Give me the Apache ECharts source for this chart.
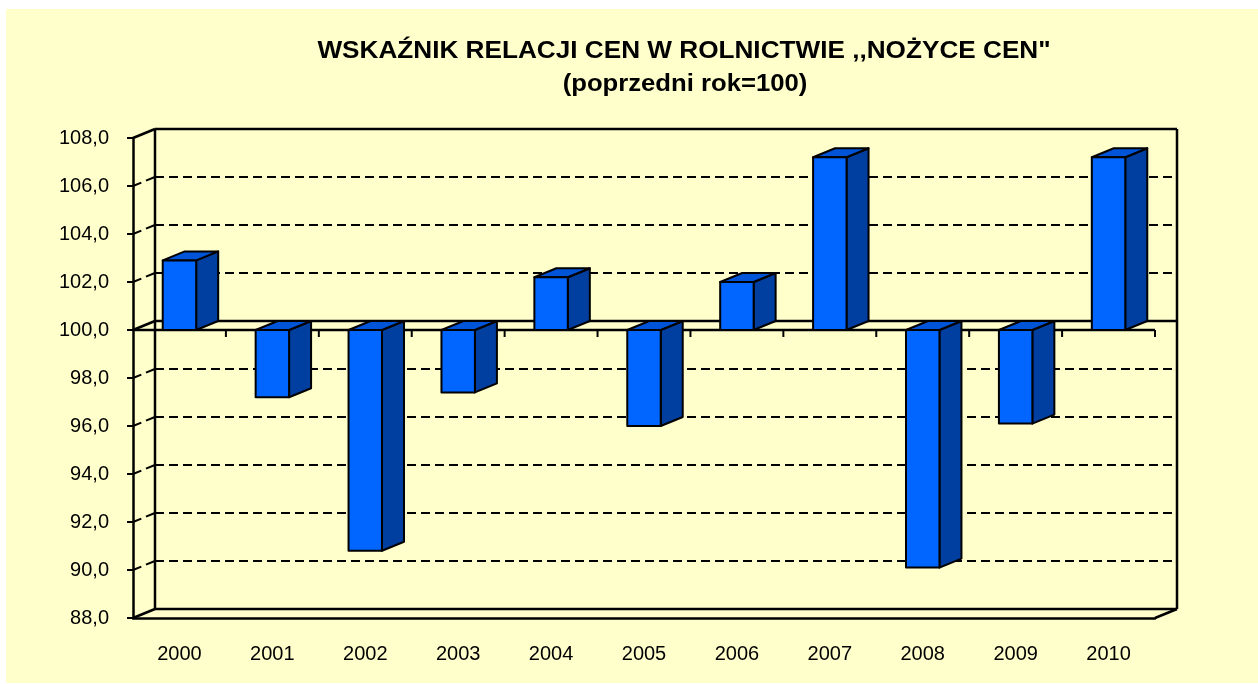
<!DOCTYPE html>
<html><head><meta charset="utf-8">
<script src="https://cdn.jsdelivr.net/npm/echarts@6/dist/echarts.min.js"></script>
<style>
html,body{margin:0;padding:0;background:#fff;width:1258px;height:684px;overflow:hidden}
#bg{position:absolute;left:6px;top:9px;right:0;bottom:1px;background:#FFFFCC}
#main{position:absolute;left:0;top:0;width:1258px;height:684px}
</style></head><body><div id="bg"></div><div id="main"></div>
<script>
const titleLine1 = 'WSKAŹNIK RELACJI CEN W ROLNICTWIE ,,NOŻYCE CEN"';
const titleLine2 = '(poprzedni rok=100)';
const categories = ['2000','2001','2002','2003','2004','2005','2006','2007','2008','2009','2010'];
const values = [102.9, 97.2, 90.8, 97.4, 102.2, 96.0, 102.0, 107.2, 90.1, 96.1, 107.2];
const baseline = 100;
const yTickValues = [88, 90, 92, 94, 96, 98, 100, 102, 104, 106, 108];
const yMin = 88, yMax = 108, yStep = 2;

const DX = 22, DY = -9;
const FONT = '"Liberation Sans", Arial, sans-serif';

function renderFrame(params, api) {
  const cs = params.coordSys;
  const v = api.value(1);
  const y = api.coord([0, v])[1];
  const x0 = cs.x, x1 = cs.x + cs.width;
  const solid = (v === yMin || v === yMax || v === baseline);
  const st = { stroke: '#000', lineWidth: solid ? 2.5 : 2, lineDash: solid ? null : [9, 5], fill: null };
  const children = [
    { type: 'line', shape: { x1: x0, y1: y, x2: x0 + DX, y2: y + DY }, style: st },
    { type: 'line', shape: { x1: x0 + DX, y1: y + DY, x2: x1 + DX, y2: y + DY }, style: st }
  ];
  if (params.dataIndex === 0) {
    const yb = cs.y + cs.height, yt = cs.y;
    const ws = { stroke: '#000', lineWidth: 2.5, fill: null };
    children.push({ type: 'line', shape: { x1: x0 + DX, y1: yt + DY, x2: x0 + DX, y2: yb + DY }, style: ws });
    children.push({ type: 'line', shape: { x1: x1 + DX, y1: yt + DY, x2: x1 + DX, y2: yb + DY }, style: ws });
    children.push({ type: 'line', shape: { x1: x1, y1: yb, x2: x1 + DX, y2: yb + DY }, style: ws });
  }
  if (v === baseline) {
    const fs = { stroke: '#000', lineWidth: 2.5, fill: null };
    children.push({ type: 'line', shape: { x1: x0, y1: y, x2: x1, y2: y }, style: fs });
    const band = cs.width / categories.length;
    for (let k = 1; k <= categories.length; k++) {
      const xt = x0 + k * band;
      children.push({ type: 'line', shape: { x1: xt, y1: y, x2: xt, y2: y + 7 }, style: { stroke: '#000', lineWidth: 2 } });
    }
  }
  return { type: 'group', children };
}

function renderBar(params, api) {
  const idx = api.value(0), v = api.value(1);
  const top = api.coord([idx, v]);
  const base = api.coord([idx, baseline]);
  const band = api.size([1, 0])[0];
  const w = band * 0.36;
  const xl = top[0] - w / 2, xr = top[0] + w / 2;
  const yHi = Math.min(top[1], base[1]), yLo = Math.max(top[1], base[1]);
  const s = { stroke: '#000', lineWidth: 2, lineJoin: 'round' };
  return {
    type: 'group',
    children: [
      { type: 'polygon', shape: { points: [[xr, yHi], [xr + DX, yHi + DY], [xr + DX, yLo + DY], [xr, yLo]] },
        style: Object.assign({ fill: '#003FA0' }, s) },
      { type: 'polygon', shape: { points: [[xl, yHi], [xl + DX, yHi + DY], [xr + DX, yHi + DY], [xr, yHi]] },
        style: Object.assign({ fill: '#0054D8' }, s) },
      { type: 'rect', shape: { x: xl, y: yHi, width: w, height: yLo - yHi },
        style: Object.assign({ fill: '#0066FF' }, s) }
    ]
  };
}

const chart = echarts.init(document.getElementById('main'), null, { renderer: 'canvas' });
chart.setOption({
  backgroundColor: 'transparent',
  animation: false,
  textStyle: { fontFamily: FONT },
  graphic: [
    { type: 'text', x: 684, y: 51, scaleX: 1.09, scaleY: 1, z: 10,
      style: { text: titleLine1, fontSize: 24, fontWeight: 'bold', fontFamily: FONT, fill: '#000',
        align: 'center', verticalAlign: 'middle', textAlign: 'center', textVerticalAlign: 'middle' } },
    { type: 'text', x: 685, y: 84, scaleX: 1.07, scaleY: 1, z: 10,
      style: { text: titleLine2, fontSize: 24, fontWeight: 'bold', fontFamily: FONT, fill: '#000',
        align: 'center', verticalAlign: 'middle', textAlign: 'center', textVerticalAlign: 'middle' } }
  ],
  grid: { left: 133, top: 138, width: 1022, height: 480, containLabel: false, outerBoundsMode: 'none' },
  xAxis: {
    type: 'category', data: categories, boundaryGap: true,
    axisLine: { show: true, lineStyle: { color: '#000', width: 2.5 } },
    axisTick: { show: false },
    axisLabel: { fontSize: 20, color: '#000', margin: 26, fontFamily: FONT },
    splitLine: { show: false }
  },
  yAxis: {
    type: 'value', min: yMin, max: yMax, interval: yStep,
    axisLine: { show: true, lineStyle: { color: '#000', width: 2.5 } },
    axisTick: { show: true, inside: false, length: 6, lineStyle: { color: '#000', width: 2 } },
    axisLabel: { fontSize: 20, color: '#000', margin: 24, fontFamily: FONT,
      formatter: v => v.toFixed(1).replace('.', ',') },
    splitLine: { show: false }
  },
  series: [
    { type: 'custom', name: 'frame', z: 1, silent: true, renderItem: renderFrame,
      encode: { x: 0, y: 1 }, data: yTickValues.map(v => [0, v]) },
    { type: 'custom', name: 'bars', z: 3, renderItem: renderBar,
      encode: { x: 0, y: 1 }, data: categories.map((c, i) => [i, values[i]]) }
  ]
});
</script></body></html>
